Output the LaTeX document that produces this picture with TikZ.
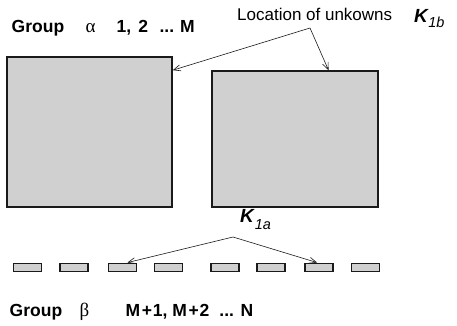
\documentclass[tikz,border=0pt]{standalone}
\usepackage{fontspec}
\setmainfont{Liberation Sans}
\newfontfamily\grk{Liberation Serif}
\usetikzlibrary{arrows.meta,calc}
\definecolor{boxgray}{HTML}{D0D0D0}
\definecolor{edge}{HTML}{1A1A1A}
\newcommand{\subsz}{\fontsize{14.5}{16}\selectfont}
\newcommand{\bigK}{{\fontsize{19}{20}\selectfont\bfseries\itshape K}}
\tikzset{
  bigbox/.style={draw=edge, line width=1.6pt, fill=boxgray, inner sep=0pt},
  smallbox/.style={draw=edge, line width=1.4pt, fill=boxgray, inner sep=0pt, minimum width=28pt, minimum height=8.5pt},
  lbl/.style={inner sep=0pt, anchor=base west, font=\fontsize{17}{20}\selectfont},
  blbl/.style={inner sep=0pt, anchor=base west, font=\fontsize{17.5}{20}\selectfont\bfseries},
  conn/.style={line width=0.6pt, draw=edge, -{Straight Barb[length=7pt,width=6pt,line width=0.6pt]}},
}
\begin{document}
\begin{tikzpicture}[x=1pt,y=-1pt]
\useasboundingbox (0,0) rectangle (457,326);
% big boxes
\node[bigbox, minimum width=165pt, minimum height=150pt] (lbox) at (89.5,132) {};
\node[bigbox, minimum width=166pt, minimum height=136pt] (rbox) at (295,139) {};
% small boxes
\foreach \i/\x in {1/27.5,2/74,3/122.5,4/168.5,5/225,6/271,7/319,8/365.5}
  \node[smallbox] (s\i) at (\x,267.5) {};
% labels
\node[blbl] (g1) at (11.5,33) {Group};
\node[lbl] (a1) at (85.5,33) {\grk\fontsize{19}{20}\selectfont α};
\node[blbl] (n1) at (116.5,33) {1,\hspace{7pt}2\hspace{11.5pt}...\hspace{6pt}M};
\node[lbl] (loc) at (237,20.5) {Location of unkowns};
\node[lbl] (k1b) at (414,23) {\bigK\kern0.5pt\raisebox{-5pt}{\subsz\itshape 1b}};
\node[lbl] (k1a) at (240,222.5) {\bigK\kern1pt\raisebox{-7pt}{\subsz\itshape 1a}};
\node[blbl] (g2) at (9.5,316.5) {Group};
\node[lbl] (b2) at (79.5,316.5) {\grk\fontsize{19}{20}\selectfont β};
\node[blbl] (n2) at (125.5,316.5) {M\kern1.5pt+\kern1pt1, M\kern1.5pt+\kern1pt2\hspace{10pt}... N};
% connectors
\coordinate (topapex) at (310,28);
\coordinate (botapex) at (233,237);
\draw[conn] (topapex) -- (lbox.east |- rbox.north);
\draw[conn] (topapex) -- ($(rbox.north west)!0.7!(rbox.north east)$);
\draw[conn] (botapex) -- ($(s3.north)+(5,0)$);
\draw[conn] (botapex) -- ($(s7.north)+(-2,0)$);
\end{tikzpicture}
\end{document}
